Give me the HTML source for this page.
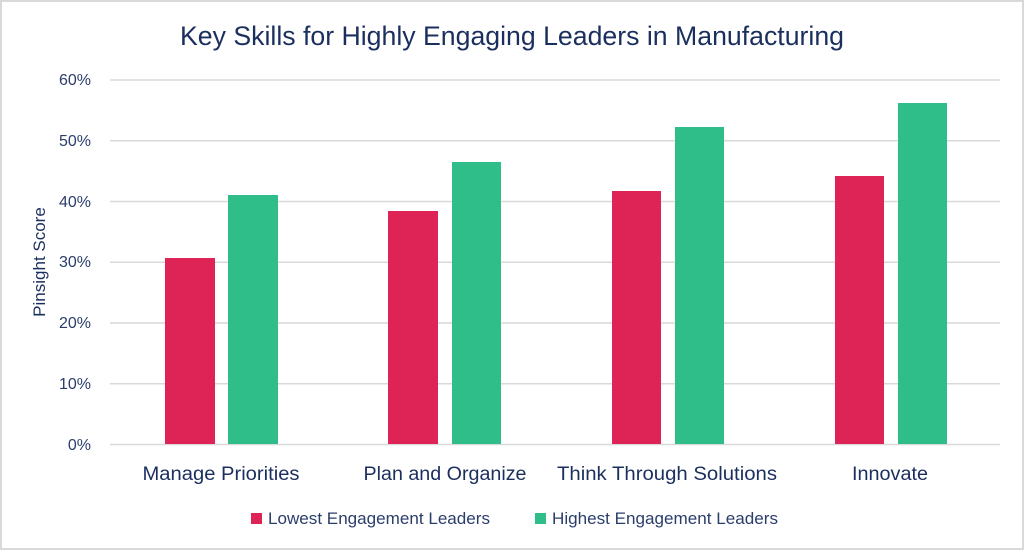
<!DOCTYPE html>
<html><head><style>
html,body{margin:0;padding:0;background:#fff;}
svg{display:block;font-family:"Liberation Sans",sans-serif;}
</style></head><body>
<svg width="1024" height="550" xmlns="http://www.w3.org/2000/svg">
<rect x="1" y="1" width="1022" height="548" fill="#fff" stroke="#d9d9d9" stroke-width="2"/>
<text x="512" y="45" text-anchor="middle" font-size="26.5" fill="#1b2f5e" textLength="664" lengthAdjust="spacingAndGlyphs">Key Skills for Highly Engaging Leaders in Manufacturing</text>
<g stroke="#d9d9d9" stroke-width="1.5">
<line x1="110" x2="1000" y1="80" y2="80"/>
<line x1="110" x2="1000" y1="140.7" y2="140.7"/>
<line x1="110" x2="1000" y1="201.5" y2="201.5"/>
<line x1="110" x2="1000" y1="262.3" y2="262.3"/>
<line x1="110" x2="1000" y1="323" y2="323"/>
<line x1="110" x2="1000" y1="383.8" y2="383.8"/>
<line x1="110" x2="1000" y1="444.5" y2="444.5"/>
</g>
<g font-size="16" fill="#2b3d6b" text-anchor="end">
<text x="91" y="85">60%</text>
<text x="91" y="146">50%</text>
<text x="91" y="207">40%</text>
<text x="91" y="267">30%</text>
<text x="91" y="328">20%</text>
<text x="91" y="389">10%</text>
<text x="91" y="450">0%</text>
</g>
<text transform="translate(45,262) rotate(-90)" text-anchor="middle" font-size="17" fill="#1b2f5e">Pinsight Score</text>
<g fill="#de2457">
<rect x="165" y="258" width="50" height="186"/>
<rect x="388" y="211" width="50" height="233"/>
<rect x="612" y="191" width="49" height="253"/>
<rect x="835" y="176" width="49" height="268"/>
</g>
<g fill="#2fbd89">
<rect x="228" y="195" width="50" height="249"/>
<rect x="452" y="162" width="49" height="282"/>
<rect x="675" y="127" width="49" height="317"/>
<rect x="898" y="103" width="49" height="341"/>
</g>
<g font-size="19" fill="#1b2f5e" text-anchor="middle">
<text x="221" y="480" textLength="157" lengthAdjust="spacingAndGlyphs">Manage Priorities</text>
<text x="445" y="480" textLength="163" lengthAdjust="spacingAndGlyphs">Plan and Organize</text>
<text x="667" y="480" textLength="220" lengthAdjust="spacingAndGlyphs">Think Through Solutions</text>
<text x="890" y="480" textLength="76" lengthAdjust="spacingAndGlyphs">Innovate</text>
</g>
<rect x="251" y="513" width="11" height="11" fill="#de2457"/>
<text x="268" y="524" font-size="17" fill="#2b3d6b" textLength="222" lengthAdjust="spacingAndGlyphs">Lowest Engagement Leaders</text>
<rect x="535" y="513" width="11" height="11" fill="#2fbd89"/>
<text x="552" y="524" font-size="17" fill="#2b3d6b" textLength="226" lengthAdjust="spacingAndGlyphs">Highest Engagement Leaders</text>
</svg>
</body></html>
